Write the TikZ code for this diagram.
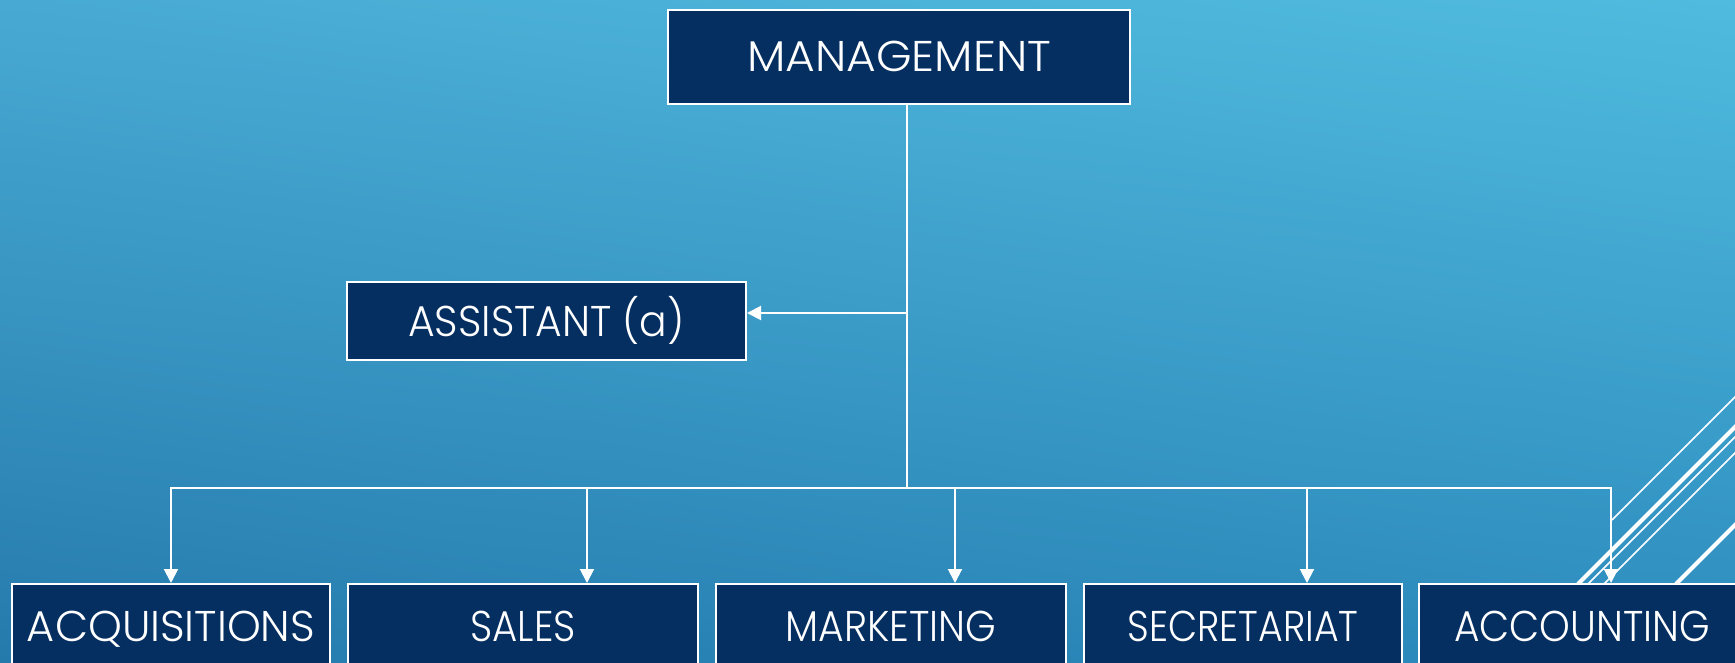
\documentclass[tikz,border=0pt]{standalone}
\usepackage{graphicx}
\usepackage{fontspec}
\IfFontExistsTF{Poppins Light}{\setmainfont{Poppins Light}}{\setmainfont{Poppins}}
\usetikzlibrary{arrows.meta,shadings}
\definecolor{navy}{RGB}{6,47,97}
\definecolor{bgUL}{RGB}{72,170,211}
\definecolor{bgUR}{RGB}{80,187,222}
\definecolor{bgLL}{RGB}{37,122,172}
\definecolor{bgLR}{RGB}{45,140,190}
\newcommand\hsx[2]{\scalebox{#1}[1]{#2}}
\begin{document}
\begin{tikzpicture}[x=1pt,y=-1pt,
  box/.style={draw=white,line width=2pt,fill=navy,text=white,inner sep=0pt,
    text height=30pt,text depth=0pt,
    font=\fontsize{43}{43}\selectfont},
  conn/.style={draw=white,line width=2pt},
  tip/.tip={Triangle[length=14pt,width=14pt]},
  arr/.style={conn,-tip},
  deco/.style={draw=white,line width=1.6pt},
  decothick/.style={draw=white,line width=4pt}]
\useasboundingbox (0,0) rectangle (1735,663);
\clip (0,0) rectangle (1735,663);
\shade[upper left=bgUL,upper right=bgUR,lower left=bgLL,lower right=bgLR] (0,0) rectangle (1735,663);
% decorative diagonal lines
\draw[deco] (1612,520) -- (1745,387);
\draw[decothick] (1578,584) -- (1745,417);
\draw[deco] (1588,584) -- (1745,427);
\draw[deco] (1604,584) -- (1745,443);
\draw[decothick] (1676,584) -- (1745,515);
% nodes
\node[box,minimum width=462pt,minimum height=94pt] (mgmt) at (899,57) {\hsx{1.06}{MANAGEMENT}};
\node[box,minimum width=399pt,minimum height=78pt] (asst) at (546.5,321) {\hsx{0.95}{ASSISTANT (a)}};
\node[box,minimum width=318pt,minimum height=84pt] (acq) at (171,626) {ACQUISITIONS};
\node[box,minimum width=350pt,minimum height=84pt] (sales) at (523,626) {\hsx{0.90}{SALES}};
\node[box,minimum width=350pt,minimum height=84pt] (mkt) at (891,626) {\hsx{0.913}{MARKETING}};
\node[box,minimum width=318pt,minimum height=84pt] (sec) at (1243,626) {\hsx{0.881}{SECRETARIAT}};
\node[box,minimum width=326pt,minimum height=84pt] (acc) at (1582,626) {\hsx{0.909}{ACCOUNTING}};
% connectors
\coordinate (trunk) at (907,488);
\coordinate (aj) at (907,313);
\coordinate (d1) at (171,488);
\coordinate (d2) at (587,488);
\coordinate (d3) at (955,488);
\coordinate (d4) at (1307,488);
\coordinate (d5) at (1611,488);
\draw[conn] (trunk |- mgmt.south) -- (trunk);
\draw[arr] (aj) -- (aj -| asst.east);
\draw[conn,tip-tip] (d1 |- acq.north) -- (d1) -- (d5) -- (d5 |- acc.north);
\draw[arr] (d2) -- (d2 |- sales.north);
\draw[arr] (d3) -- (d3 |- mkt.north);
\draw[arr] (d4) -- (d4 |- sec.north);
\end{tikzpicture}
\end{document}
